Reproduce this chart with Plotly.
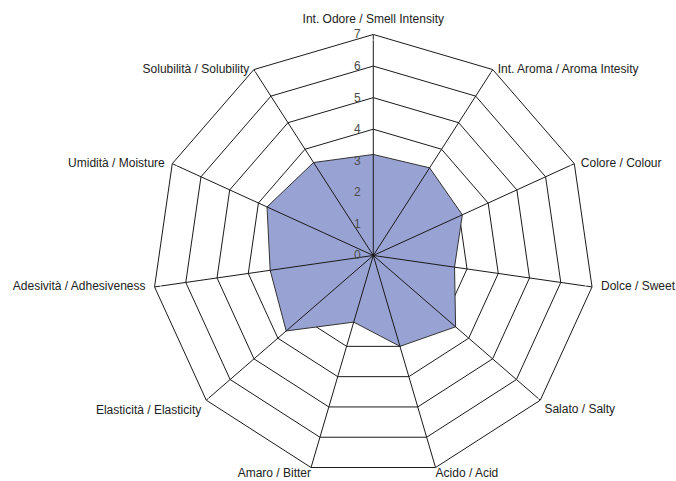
import plotly.graph_objects as go

categories = ["Int. Odore / Smell Intensity", "Int. Aroma / Aroma Intesity", "Colore / Colour",
              "Dolce / Sweet", "Salato / Salty", "Acido / Acid", "Amaro / Bitter",
              "Elasticità / Elasticity", "Adesività / Adhesiveness", "Umidità / Moisture",
              "Solubilità / Solubility"]
values = [3.2, 3.3, 3.1, 2.6, 3.45, 3.0, 2.2, 3.65, 3.3, 3.7, 3.5]
radial_ticks = [0, 1, 2, 3, 4, 5, 6, 7]
r_max = 7

# label placement around the outer ring (style only)
label_pos = ["top center", "middle right", "middle right", "middle right", "bottom right",
             "bottom right", "bottom left", "bottom left", "middle left", "middle left",
             "middle left"]
label_pad = [11.2, 6.4, 8.8, 12.8, 5.0, 0, 0, 6.4, 12.8, 10.4, 5.6]

fig = go.Figure()
fig.add_trace(go.Scatterpolar(
    r=values + values[:1], theta=categories + categories[:1],
    mode="lines", fill="toself", fillcolor="#98a3d4",
    line=dict(color="#333333", width=1), hoverinfo="skip"))

# spokes drawn above the filled area
sr, st = [], []
for c in categories:
    sr += [0, r_max, None]
    st += [c, c, None]
fig.add_trace(go.Scatterpolar(r=sr, theta=st, mode="lines",
                              line=dict(color="#1a1a1a", width=1), hoverinfo="skip"))

# category labels
fig.add_trace(go.Scatterpolar(r=[r_max] * len(categories), theta=categories,
                              mode="markers+text", text=categories,
                              textposition=label_pos, cliponaxis=False,
                              marker=dict(size=label_pad, color="rgba(0,0,0,0)"),
                              textfont=dict(size=12, color="#222222"), hoverinfo="skip"))

fig.update_layout(
    width=676, height=481,
    margin=dict(l=0, r=0, t=0, b=0),
    paper_bgcolor="white",
    showlegend=False,
    font=dict(family="Arial, Liberation Sans, sans-serif", size=12, color="#222222"),
    polar=dict(
        domain=dict(x=[0.2253, 0.8791], y=[0.0094, 0.9283]),
        bgcolor="white",
        gridshape="linear",
        angularaxis=dict(rotation=90, direction="clockwise", type="category",
                         categoryorder="array", categoryarray=categories,
                         showgrid=False, linecolor="#1a1a1a", linewidth=1,
                         ticks="", showticklabels=False),
        radialaxis=dict(range=[0, r_max], tickvals=radial_ticks, angle=90,
                        tickangle=90, showline=False, gridcolor="#1a1a1a", gridwidth=1,
                        ticks="outside", ticklen=8, tickcolor="rgba(0,0,0,0)",
                        tickfont=dict(size=12, color="#4d4d4d"),
                        side="counterclockwise"),
    ),
)
fig.write_html("out.html", post_script="document.body.style.margin='0';",
               config={"displayModeBar": False})
